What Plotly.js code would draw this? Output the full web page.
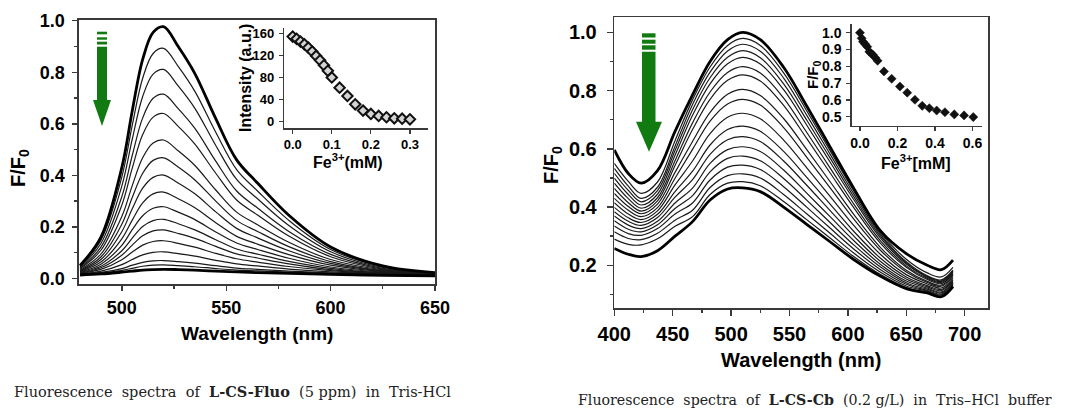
<!DOCTYPE html>
<html><head><meta charset="utf-8">
<script src="https://cdn.plot.ly/plotly-3.0.1.min.js"></script>
<style>html,body{margin:0;padding:0;background:#fff}#chart{width:1066px;height:409px}</style>
</head><body><div id="chart"></div>
<script>
// ---------- Left panel: L-CS-Fluo spectra (F/F0 vs wavelength) ----------
const fluoWavelength = [480, 490, 500, 505, 510, 515, 520, 527, 535, 545, 555, 565, 580, 600, 625, 650];
const fluo01 = [0.050, 0.160, 0.430, 0.650, 0.850, 0.955, 0.977, 0.900, 0.795, 0.620, 0.460, 0.370, 0.245, 0.122, 0.048, 0.022];
const fluo02 = [0.047, 0.148, 0.393, 0.594, 0.777, 0.873, 0.893, 0.823, 0.726, 0.567, 0.422, 0.339, 0.225, 0.112, 0.045, 0.021];
const fluo03 = [0.044, 0.135, 0.358, 0.540, 0.706, 0.793, 0.811, 0.747, 0.660, 0.516, 0.384, 0.309, 0.205, 0.103, 0.042, 0.021];
const fluo04 = [0.040, 0.121, 0.317, 0.477, 0.623, 0.699, 0.715, 0.659, 0.582, 0.455, 0.339, 0.273, 0.182, 0.093, 0.039, 0.020];
const fluo05 = [0.038, 0.109, 0.284, 0.428, 0.558, 0.626, 0.640, 0.590, 0.521, 0.408, 0.304, 0.246, 0.164, 0.084, 0.036, 0.019];
const fluo06 = [0.034, 0.094, 0.240, 0.360, 0.468, 0.525, 0.537, 0.495, 0.438, 0.343, 0.257, 0.208, 0.140, 0.073, 0.033, 0.019];
const fluo07 = [0.031, 0.083, 0.210, 0.314, 0.408, 0.458, 0.468, 0.432, 0.382, 0.300, 0.225, 0.182, 0.123, 0.065, 0.030, 0.018];
const fluo08 = [0.029, 0.073, 0.181, 0.270, 0.350, 0.392, 0.401, 0.370, 0.328, 0.258, 0.194, 0.157, 0.107, 0.058, 0.028, 0.018];
const fluo09 = [0.027, 0.063, 0.153, 0.226, 0.293, 0.328, 0.335, 0.309, 0.274, 0.216, 0.163, 0.133, 0.092, 0.051, 0.026, 0.017];
const fluo10 = [0.025, 0.055, 0.128, 0.189, 0.243, 0.272, 0.278, 0.257, 0.228, 0.180, 0.137, 0.112, 0.078, 0.044, 0.024, 0.017];
const fluo11 = [0.023, 0.047, 0.107, 0.156, 0.201, 0.224, 0.229, 0.212, 0.188, 0.150, 0.114, 0.094, 0.066, 0.039, 0.022, 0.016];
const fluo12 = [0.021, 0.041, 0.090, 0.129, 0.165, 0.184, 0.188, 0.174, 0.155, 0.124, 0.095, 0.079, 0.056, 0.034, 0.021, 0.016];
const fluo13 = [0.020, 0.035, 0.072, 0.102, 0.129, 0.143, 0.146, 0.136, 0.121, 0.097, 0.076, 0.063, 0.046, 0.030, 0.019, 0.016];
const fluo14 = [0.018, 0.028, 0.053, 0.073, 0.091, 0.101, 0.103, 0.096, 0.086, 0.070, 0.056, 0.048, 0.036, 0.025, 0.018, 0.016];
const fluo15 = [0.017, 0.023, 0.038, 0.051, 0.062, 0.068, 0.069, 0.065, 0.059, 0.049, 0.040, 0.035, 0.028, 0.021, 0.017, 0.015];
const fluo16 = [0.016, 0.021, 0.031, 0.039, 0.047, 0.051, 0.052, 0.049, 0.045, 0.038, 0.032, 0.029, 0.024, 0.019, 0.016, 0.015];
const fluo17 = [0.013, 0.017, 0.024, 0.028, 0.032, 0.034, 0.035, 0.034, 0.032, 0.028, 0.025, 0.022, 0.019, 0.015, 0.012, 0.010];

// Left inset: intensity vs Fe3+ (mM)
const fluoInsetConc = [0.00, 0.01, 0.02, 0.03, 0.04, 0.05, 0.06, 0.07, 0.08, 0.09, 0.10, 0.12, 0.14, 0.16, 0.18, 0.20, 0.22, 0.24, 0.26, 0.28, 0.30];
const fluoInsetIntensity = [154, 150, 145, 140, 134, 127, 119, 111, 102, 92, 80, 61.5, 46.5, 31.5, 20, 14, 10.3, 8, 6.1, 5.4, 4.2];

// ---------- Right panel: L-CS-Cb spectra ----------
const cbWavelength = [400, 412, 423, 437, 452, 467, 482, 497, 510, 525, 545, 565, 585, 605, 628, 650, 668, 680, 690];
const cb01 = [0.596, 0.515, 0.482, 0.525, 0.660, 0.785, 0.900, 0.975, 1.000, 0.975, 0.880, 0.745, 0.605, 0.465, 0.318, 0.240, 0.200, 0.185, 0.218];
const cb02 = [0.550, 0.488, 0.447, 0.486, 0.628, 0.768, 0.881, 0.955, 0.979, 0.955, 0.861, 0.729, 0.592, 0.455, 0.312, 0.221, 0.174, 0.160, 0.193];
const cb03 = [0.533, 0.472, 0.430, 0.468, 0.609, 0.752, 0.863, 0.936, 0.959, 0.935, 0.843, 0.714, 0.580, 0.446, 0.306, 0.212, 0.164, 0.150, 0.183];
const cb04 = [0.516, 0.457, 0.418, 0.456, 0.594, 0.734, 0.844, 0.914, 0.937, 0.913, 0.823, 0.697, 0.567, 0.436, 0.300, 0.208, 0.161, 0.147, 0.181];
const cb05 = [0.499, 0.443, 0.407, 0.444, 0.578, 0.715, 0.823, 0.892, 0.914, 0.891, 0.803, 0.680, 0.553, 0.426, 0.293, 0.204, 0.159, 0.144, 0.178];
const cb06 = [0.482, 0.429, 0.396, 0.432, 0.559, 0.689, 0.795, 0.862, 0.882, 0.860, 0.774, 0.655, 0.533, 0.411, 0.284, 0.198, 0.155, 0.141, 0.175];
const cb07 = [0.464, 0.415, 0.386, 0.421, 0.543, 0.666, 0.770, 0.835, 0.854, 0.833, 0.749, 0.634, 0.516, 0.398, 0.275, 0.193, 0.151, 0.137, 0.171];
const cb08 = [0.447, 0.402, 0.377, 0.410, 0.519, 0.625, 0.725, 0.787, 0.804, 0.783, 0.704, 0.596, 0.486, 0.375, 0.261, 0.183, 0.145, 0.132, 0.166];
const cb09 = [0.430, 0.389, 0.367, 0.398, 0.499, 0.598, 0.695, 0.754, 0.770, 0.750, 0.673, 0.570, 0.465, 0.359, 0.251, 0.177, 0.141, 0.128, 0.162];
const cb10 = [0.415, 0.376, 0.357, 0.387, 0.476, 0.558, 0.652, 0.708, 0.722, 0.703, 0.630, 0.534, 0.436, 0.337, 0.237, 0.168, 0.136, 0.122, 0.156];
const cb11 = [0.399, 0.363, 0.347, 0.375, 0.453, 0.523, 0.613, 0.666, 0.678, 0.660, 0.591, 0.501, 0.409, 0.317, 0.224, 0.160, 0.130, 0.117, 0.151];
const cb12 = [0.384, 0.351, 0.337, 0.364, 0.434, 0.494, 0.581, 0.631, 0.642, 0.625, 0.558, 0.474, 0.387, 0.301, 0.213, 0.153, 0.126, 0.113, 0.147];
const cb13 = [0.369, 0.338, 0.326, 0.351, 0.414, 0.465, 0.550, 0.597, 0.607, 0.591, 0.527, 0.447, 0.366, 0.285, 0.203, 0.146, 0.122, 0.108, 0.143];
const cb14 = [0.353, 0.324, 0.315, 0.339, 0.395, 0.439, 0.521, 0.567, 0.575, 0.559, 0.498, 0.423, 0.346, 0.270, 0.194, 0.140, 0.118, 0.105, 0.139];
const cb15 = [0.335, 0.309, 0.303, 0.326, 0.376, 0.414, 0.493, 0.537, 0.544, 0.529, 0.470, 0.399, 0.327, 0.256, 0.185, 0.135, 0.114, 0.101, 0.136];
const cb16 = [0.315, 0.292, 0.288, 0.310, 0.355, 0.389, 0.467, 0.508, 0.514, 0.500, 0.443, 0.376, 0.309, 0.242, 0.176, 0.129, 0.111, 0.098, 0.132];
const cb17 = [0.290, 0.272, 0.270, 0.291, 0.334, 0.367, 0.443, 0.482, 0.487, 0.473, 0.419, 0.356, 0.293, 0.230, 0.168, 0.124, 0.107, 0.094, 0.129];
const cb18 = [0.258, 0.238, 0.230, 0.250, 0.300, 0.350, 0.424, 0.462, 0.466, 0.453, 0.400, 0.340, 0.280, 0.220, 0.162, 0.120, 0.105, 0.092, 0.127];

// Right inset: F/F0 vs Fe3+ (mM)
const cbInsetConc = [0.000, 0.009, 0.016, 0.027, 0.039, 0.050, 0.060, 0.070, 0.082, 0.094, 0.128, 0.169, 0.213, 0.252, 0.293, 0.332, 0.370, 0.409, 0.453, 0.503, 0.555, 0.604];
const cbInsetRatio = [1.000, 0.967, 0.947, 0.933, 0.917, 0.887, 0.877, 0.867, 0.851, 0.833, 0.770, 0.726, 0.680, 0.643, 0.601, 0.565, 0.551, 0.537, 0.527, 0.514, 0.508, 0.498];

// Tick labels
const fluoYTicks = [0.0, 0.2, 0.4, 0.6, 0.8, 1.0];
const fluoXTicks = [500, 550, 600, 650];
const cbYTicks = [0.2, 0.4, 0.6, 0.8, 1.0];
const cbXTicks = [400, 450, 500, 550, 600, 650, 700];
const fluoInsetYTicks = [0, 40, 80, 120, 160];
const fluoInsetXTicks = [0.0, 0.1, 0.2, 0.3];
const cbInsetYTicks = [0.5, 0.6, 0.7, 0.8, 0.9, 1.0];
const cbInsetXTicks = [0.0, 0.2, 0.4, 0.6];

// ---------- build ----------
const W = 1066, H = 409;
const px = v => v / W;
const py = v => 1 - v / H;

const fluoSeries = [fluo01, fluo02, fluo03, fluo04, fluo05, fluo06, fluo07, fluo08, fluo09, fluo10, fluo11, fluo12, fluo13, fluo14, fluo15, fluo16, fluo17];
const cbSeries = [cb01, cb02, cb03, cb04, cb05, cb06, cb07, cb08, cb09, cb10, cb11, cb12, cb13, cb14, cb15, cb16, cb17, cb18];

const traces = [];
function addSpectra(series, xs, xa, ya) {
  const last = series.length - 1;
  const order = series.map((s, i) => i).filter(i => i !== 0 && i !== last).concat([last, 0]);
  order.forEach(i => {
    const thick = (i === 0 || i === last);
    traces.push({
      x: xs, y: series[i], xaxis: xa, yaxis: ya, type: 'scatter', mode: 'lines',
      line: {color: thick ? '#000' : '#1a1a1a', width: thick ? 2.8 : 1.2, shape: 'spline', smoothing: 1},
      hoverinfo: 'skip', showlegend: false
    });
  });
}
addSpectra(fluoSeries, fluoWavelength, 'x', 'y');
addSpectra(cbSeries, cbWavelength, 'x2', 'y2');

traces.push({
  x: fluoInsetConc, y: fluoInsetIntensity, xaxis: 'x3', yaxis: 'y3', type: 'scatter', mode: 'markers',
  marker: {symbol: 'diamond', size: 8, color: '#d4d4d4', line: {color: '#111', width: 2}},
  showlegend: false, hoverinfo: 'skip'
});
traces.push({
  x: cbInsetConc, y: cbInsetRatio, xaxis: 'x4', yaxis: 'y4', type: 'scatter', mode: 'markers',
  marker: {symbol: 'diamond', size: 7, color: '#111', line: {color: '#111', width: 0.5}},
  showlegend: false, hoverinfo: 'skip'
});

const FONT = 'Arial, "Liberation Sans", sans-serif';
function mainAxis(opts) {
  return Object.assign({
    showline: true, mirror: true, linecolor: '#3a3a3a', linewidth: 1.6,
    ticks: 'outside', ticklen: 5, tickwidth: 1.4, tickcolor: '#3a3a3a',
    showgrid: false, zeroline: false, fixedrange: true,
    tickfont: {family: FONT, size: 18, color: '#000', weight: 'bold'}
  }, opts);
}
function insetAxis(opts) {
  return Object.assign({
    showline: true, mirror: false, linecolor: '#3a3a3a', linewidth: 1.4,
    ticks: 'outside', ticklen: 4, tickwidth: 1.2, tickcolor: '#3a3a3a',
    showgrid: false, zeroline: false, fixedrange: true,
    tickfont: {family: FONT, size: 13, color: '#000', weight: 'bold'}
  }, opts);
}

const layout = {
  width: W, height: H,
  margin: {l: 0, r: 0, t: 0, b: 0},
  paper_bgcolor: '#fff', plot_bgcolor: 'rgba(0,0,0,0)',
  showlegend: false,
  xaxis: mainAxis({domain: [px(79), px(435)], anchor: 'y', range: [479.5, 650],
    tickvals: fluoXTicks, ticktext: fluoXTicks.map(String), ticklabelstandoff: 2,
    minor: {dtick: 25, ticks: 'outside', ticklen: 3, tickcolor: '#3a3a3a', showgrid: false}}),
  yaxis: mainAxis({domain: [py(284), py(20)], anchor: 'x', range: [-0.022, 1.003],
    tickvals: fluoYTicks, ticktext: fluoYTicks.map(v => v.toFixed(1)), ticklabelstandoff: 4,
    minor: {dtick: 0.1, ticks: 'outside', ticklen: 3, tickcolor: '#3a3a3a', showgrid: false}}),
  xaxis2: mainAxis({domain: [px(614.3), px(988)], anchor: 'y2', range: [400, 720],
    tickvals: cbXTicks, ticktext: cbXTicks.map(String), ticklen: 6, ticklabelstandoff: 1,
    tickfont: {family: FONT, size: 20, color: '#000', weight: 'bold'},
    minor: {dtick: 25, ticks: 'outside', ticklen: 3, tickcolor: '#3a3a3a', showgrid: false}}),
  yaxis2: mainAxis({domain: [py(308), py(17.3)], anchor: 'x2', range: [0.0534, 1.0515],
    tickvals: cbYTicks, ticktext: cbYTicks.map(v => v.toFixed(1)), ticklen: 6, ticklabelstandoff: 6,
    tickfont: {family: FONT, size: 20, color: '#000', weight: 'bold'},
    minor: {dtick: 0.1, ticks: 'outside', ticklen: 3, tickcolor: '#3a3a3a', showgrid: false}}),
  xaxis3: insetAxis({domain: [px(284.3), px(428.3)], anchor: 'y3', range: [-0.0215, 0.347],
    tickvals: fluoInsetXTicks, ticktext: fluoInsetXTicks.map(v => v.toFixed(1)), ticklabelstandoff: 0}),
  yaxis3: insetAxis({domain: [py(128.3), py(28.3)], anchor: 'x3', range: [-12, 169],
    tickvals: fluoInsetYTicks, ticktext: fluoInsetYTicks.map(String), ticklabelstandoff: 2}),
  xaxis4: insetAxis({domain: [px(851.7), px(981.7)], anchor: 'y4', range: [-0.044, 0.649],
    tickvals: cbInsetXTicks, ticktext: cbInsetXTicks.map(v => v.toFixed(1)), ticklabelstandoff: 0,
    tickfont: {family: FONT, size: 14, color: '#000', weight: 'bold'}}),
  yaxis4: insetAxis({domain: [py(126), py(24)], anchor: 'x4', range: [0.445, 1.052],
    tickvals: cbInsetYTicks, ticktext: cbInsetYTicks.map(v => v.toFixed(1)), ticklabelstandoff: 2,
    tickfont: {family: FONT, size: 14, color: '#000', weight: 'bold'}}),
  annotations: [],
  shapes: []
};

function ann(text, x, y, size, extra) {
  layout.annotations.push(Object.assign({
    text: text, xref: 'paper', yref: 'paper', x: px(x), y: py(y),
    xanchor: 'center', yanchor: 'middle', showarrow: false,
    font: {family: FONT, size: size, color: '#000', weight: 'bold'}
  }, extra || {}));
}
ann('Wavelength (nm)', 257, 333, 19);
ann('Wavelength (nm)', 801, 360, 20);
ann('F/F<sub>0</sub>', 19, 168, 20, {textangle: -90});
ann('F/F<sub>0</sub>', 552, 165, 20, {textangle: -90});
ann('Intensity (a.u.)', 245, 78, 16, {textangle: -90});
ann('Fe<sup>3+</sup>(mM)', 348, 161, 16);
ann('F/F<sub>0</sub>', 813, 75, 15, {textangle: -90});
ann('Fe<sup>3+</sup>[mM]', 916, 162, 16);

const SERIF = '"DejaVu Serif", "Liberation Serif", serif';
const sp = '&nbsp;&nbsp;';
layout.annotations.push({
  text: 'Fluorescence' + sp + 'spectra' + sp + 'of' + sp + '<b>L-CS-Fluo</b>' + sp + '(5 ppm)' + sp + 'in' + sp + 'Tris-HCl',
  xref: 'paper', yref: 'paper', x: px(12), y: py(391), xanchor: 'left', yanchor: 'middle', showarrow: false,
  font: {family: SERIF, size: 14.5, color: '#222'}
});
layout.annotations.push({
  text: 'Fluorescence' + sp + 'spectra' + sp + 'of' + sp + '<b>L-CS-Cb</b>' + sp + '(0.2 g/L)' + sp + 'in' + sp + 'Tris–HCl' + sp + 'buffer',
  xref: 'paper', yref: 'paper', x: px(576), y: py(400), xanchor: 'left', yanchor: 'middle', showarrow: false,
  font: {family: SERIF, size: 14.2, color: '#222'}
});

// green arrows (decoration), in pixel space -> paper
const GREEN = '#117a11';
function rect(x0, y0, x1, y1) {
  layout.shapes.push({type: 'rect', xref: 'paper', yref: 'paper', x0: px(x0), x1: px(x1), y0: py(y1), y1: py(y0),
    fillcolor: GREEN, line: {width: 0}, layer: 'above'});
}
function tri(xl, xr, ytop, ytip) {
  const xm = (xl + xr) / 2;
  layout.shapes.push({type: 'path', xref: 'paper', yref: 'paper',
    path: `M ${px(xl)} ${py(ytop)} L ${px(xr)} ${py(ytop)} L ${px(xm)} ${py(ytip)} Z`,
    fillcolor: GREEN, line: {width: 0}, layer: 'above'});
}
// left arrow
rect(97, 31.7, 107, 34.3); rect(97, 37.3, 107, 39.7); rect(97, 41.7, 107, 44.5);
rect(97, 46.7, 107, 100.5); tri(93, 111, 100, 126);
// right arrow
rect(642, 33.3, 655.5, 37.5); rect(642, 39.7, 655.5, 43.7); rect(642, 45.3, 655.5, 49.7);
rect(642, 51.7, 655.5, 122); tri(636, 662, 121.7, 151.7);

Plotly.newPlot('chart', traces, layout, {staticPlot: true, displayModeBar: false});
</script>
</body></html>
